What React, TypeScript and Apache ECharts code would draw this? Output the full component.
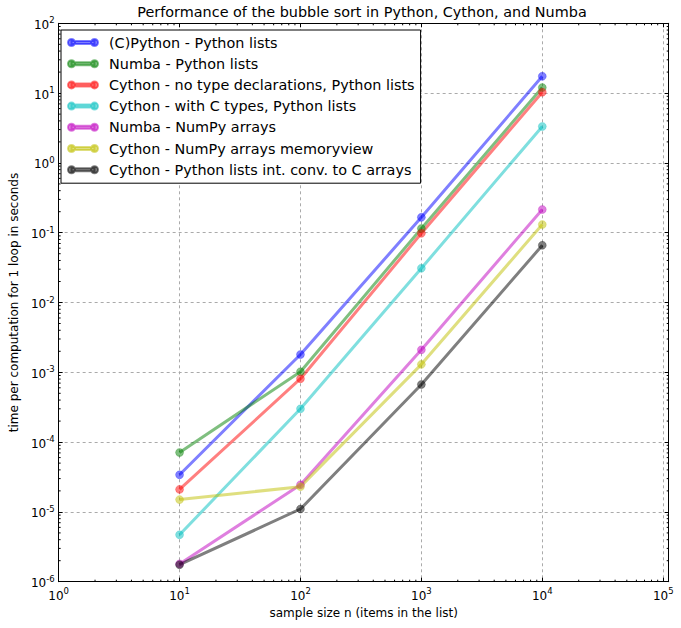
import React, { useEffect, useRef } from "react";
import * as echarts from "echarts";

const SAMPLE_SIZES = [10, 100, 1000, 10000];

const SERIES_NAMES = [
  "(C)Python - Python lists",
  "Numba - Python lists",
  "Cython - no type declarations, Python lists",
  "Cython - with C types, Python lists",
  "Numba - NumPy arrays",
  "Cython - NumPy arrays memoryview",
  "Cython - Python lists int. conv. to C arrays",
];

const cpythonLists = [3.4e-5, 1.8e-3, 0.166, 17.4];
const numbaLists = [7.1e-5, 1.02e-3, 0.115, 12.0];
const cythonNoTypes = [2.1e-5, 8.1e-4, 0.098, 10.3];
const cythonCTypes = [4.7e-6, 3.0e-4, 0.031, 3.33];
const numbaNumpy = [1.8e-6, 2.45e-5, 2.1e-3, 0.215];
const cythonMemoryview = [1.5e-5, 2.3e-5, 1.3e-3, 0.131];
const cythonCArrays = [1.75e-6, 1.1e-5, 6.7e-4, 0.066];

const SERIES_VALUES = [
  cpythonLists,
  numbaLists,
  cythonNoTypes,
  cythonCTypes,
  numbaNumpy,
  cythonMemoryview,
  cythonCArrays,
];

const COLORS = [
  "rgba(0,0,255,0.5)",
  "rgba(0,128,0,0.5)",
  "rgba(255,0,0,0.5)",
  "rgba(0,191,191,0.5)",
  "rgba(191,0,191,0.5)",
  "rgba(191,191,0,0.5)",
  "rgba(0,0,0,0.5)",
];

const X_MIN = 1;
const X_MAX = 111000;
const Y_MIN = 1e-6;
const Y_MAX = 1e2;

const X_DECADES = [1, 10, 100, 1000, 10000];
const Y_DECADES = [1e-6, 1e-5, 1e-4, 1e-3, 1e-2, 1e-1, 1, 10];
const MINOR_MULTIPLIERS = [2, 3, 4, 5, 6, 7, 8, 9];

const TITLE = "Performance of the bubble sort in Python, Cython, and Numba";
const X_NAME = "sample size n (items in the list)";
const Y_NAME = "time per computation for 1 loop in seconds";

const FONT = "DejaVu Sans";

const LEGEND_ICON =
  "path://M0,3.5 A3.5,3.5 0 1,1 7,3.5 A3.5,3.5 0 1,1 0,3.5 Z M23,3.5 A3.5,3.5 0 1,1 30,3.5 A3.5,3.5 0 1,1 23,3.5 Z M3.5,2 L26.5,2 L26.5,5 L3.5,5 Z";

function powLabel(v: number): string {
  const e = Math.log10(v);
  const r = Math.round(e);
  if (Math.abs(e - r) > 1e-6) return "";
  return `{b|10}{s|${r}}`;
}

const labelRich = {
  b: { fontSize: 12, fontFamily: FONT, color: "#000", verticalAlign: "bottom", lineHeight: 15 },
  s: { fontSize: 8.5, fontFamily: FONT, color: "#000", verticalAlign: "top", lineHeight: 10 },
};

export default function App() {
  const ref = useRef<HTMLDivElement>(null);

  useEffect(() => {
    if (!ref.current) return;
    const chart = echarts.init(ref.current, undefined, { renderer: "svg" });

    const xMinor: number[][] = [];
    X_DECADES.forEach((d) => MINOR_MULTIPLIERS.forEach((m) => xMinor.push([d * m, 1])));
    const yMinor: number[][] = [];
    Y_DECADES.forEach((d) => MINOR_MULTIPLIERS.forEach((m) => yMinor.push([10, d * m])));

    const lineSeries = SERIES_NAMES.map((name, i) => ({
      name,
      type: "line",
      data: SAMPLE_SIZES.map((x, j) => [x, SERIES_VALUES[i][j]]),
      symbol: "circle",
      symbolSize: 8,
      showAllSymbol: true,
      color: COLORS[i],
      lineStyle: { width: 3, color: COLORS[i] },
      itemStyle: { color: COLORS[i], borderColor: COLORS[i], borderWidth: 0.5 },
      emphasis: { disabled: true },
      z: 2,
    }));

    const splitLine = {
      show: true,
      lineStyle: { color: "#aaaaaa", type: [3, 3], width: 1 },
    };

    const option: any = {
      animation: false,
      textStyle: { fontFamily: FONT },
      title: {
        text: TITLE,
        left: 362,
        top: 5,
        textAlign: "center",
        padding: 0,
        textStyle: { fontSize: 14.4, fontWeight: "normal", color: "#000", fontFamily: FONT },
      },
      grid: { left: 55, top: 23.3, right: 12.3, bottom: 46.3, containLabel: false },
      legend: {
        data: SERIES_NAMES,
        orient: "vertical",
        left: 61,
        top: 30,
        padding: [4, 6, 5, 6],
        itemGap: 4.2,
        itemWidth: 30,
        itemHeight: 7,
        icon: LEGEND_ICON,
        borderColor: "#000",
        borderWidth: 1,
        borderRadius: 0,
        backgroundColor: "#fff",
        selectedMode: false,
        textStyle: {
          fontSize: 14.4,
          fontFamily: FONT,
          color: "#000",
          lineHeight: 17,
          padding: [0, 0, 0, 6],
        },
      },
      xAxis: [
        {
          type: "log",
          logBase: 10,
          min: X_MIN,
          max: X_MAX,
          position: "bottom",
          name: X_NAME,
          nameLocation: "middle",
          nameGap: 23,
          nameTextStyle: { fontSize: 12, color: "#000", fontFamily: FONT },
          axisLine: { show: true, lineStyle: { color: "#000", width: 1 } },
          axisTick: { show: true, inside: true, length: 4, lineStyle: { color: "#000" } },
          axisLabel: { formatter: powLabel, rich: labelRich, margin: 5, showMaxLabel: true },
          splitLine,
          minorTick: { show: false },
        },
        {
          type: "log",
          logBase: 10,
          min: X_MIN,
          max: X_MAX,
          position: "top",
          axisLine: { show: true, lineStyle: { color: "#000", width: 1 } },
          axisTick: { show: true, inside: true, length: 4, lineStyle: { color: "#000" } },
          axisLabel: { show: false },
          splitLine: { show: false },
        },
      ],
      yAxis: [
        {
          type: "log",
          logBase: 10,
          min: Y_MIN,
          max: Y_MAX,
          position: "left",
          name: Y_NAME,
          nameLocation: "middle",
          nameGap: 36,
          nameTextStyle: { fontSize: 12, color: "#000", fontFamily: FONT },
          axisLine: { show: true, lineStyle: { color: "#000", width: 1 } },
          axisTick: { show: true, inside: true, length: 4, lineStyle: { color: "#000" } },
          axisLabel: { formatter: powLabel, rich: labelRich, margin: 4 },
          splitLine,
        },
        {
          type: "log",
          logBase: 10,
          min: Y_MIN,
          max: Y_MAX,
          position: "right",
          axisLine: { show: true, lineStyle: { color: "#000", width: 1 } },
          axisTick: { show: true, inside: true, length: 4, lineStyle: { color: "#000" } },
          axisLabel: { show: false },
          splitLine: { show: false },
        },
      ],
      series: [
        ...lineSeries,
        {
          name: "xMinorTicks",
          type: "custom",
          silent: true,
          z: 5,
          data: xMinor,
          encode: { x: 0, y: 1 },
          renderItem: (params: any, api: any) => {
            const cs = params.coordSys;
            const x = api.coord([api.value(0), 1])[0];
            if (x > cs.x + cs.width) return null;
            const style = { stroke: "#000", lineWidth: 1 };
            return {
              type: "group",
              children: [
                { type: "line", shape: { x1: x, y1: cs.y + cs.height, x2: x, y2: cs.y + cs.height - 2 }, style },
                { type: "line", shape: { x1: x, y1: cs.y, x2: x, y2: cs.y + 2 }, style },
              ],
            };
          },
        },
        {
          name: "yMinorTicks",
          type: "custom",
          silent: true,
          z: 5,
          data: yMinor,
          encode: { x: 0, y: 1 },
          renderItem: (params: any, api: any) => {
            const cs = params.coordSys;
            const y = api.coord([10, api.value(1)])[1];
            const style = { stroke: "#000", lineWidth: 1 };
            return {
              type: "group",
              children: [
                { type: "line", shape: { x1: cs.x, y1: y, x2: cs.x + 2, y2: y }, style },
                { type: "line", shape: { x1: cs.x + cs.width, y1: y, x2: cs.x + cs.width - 2, y2: y }, style },
              ],
            };
          },
        },
      ],
    };

    chart.setOption(option);
    return () => chart.dispose();
  }, []);

  return (
    <div
      ref={ref}
      style={{ position: "fixed", left: 0, top: 0, width: 681, height: 628, background: "#fff" }}
    />
  );
}
